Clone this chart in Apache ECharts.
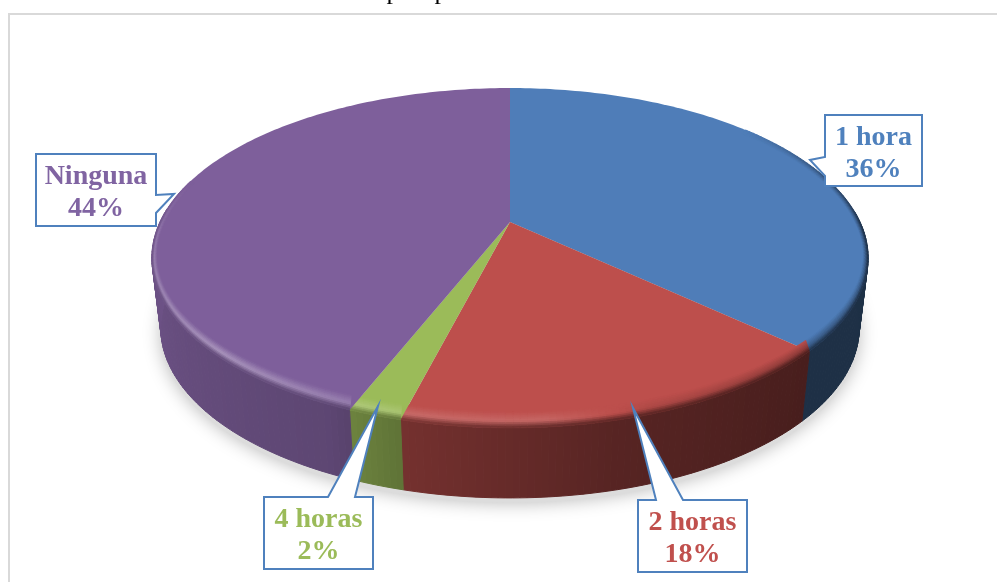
<!DOCTYPE html>
<html>
<head>
<meta charset="utf-8">
<style>html,body{margin:0;padding:0;background:#fff}#c{width:997px;height:582px}</style>
<script src="https://cdn.jsdelivr.net/npm/echarts@6/dist/echarts.min.js"></script>
</head>
<body>
<div id="c"></div>
<script>
var categories = ['1 hora', '2 horas', '4 horas', 'Ninguna'];
var values = [36, 18, 2, 44];
var colors = ['#4F7DB8', '#BD4F4C', '#9BBB59', '#7E5F9B'];
var labelColors = ['#4F81BD', '#C0504D', '#9BBB59', '#8064A2'];

// callout boxes: [x, y, w, h] and pointer [base point, tip, base point]
var boxes = [[825,115,97,71],[638,500,109,72],[264,497,109,72],[36,154,120,72]];
var pointers = [
  [[825,157],[810,160],[825,176]],
  [[683,500],[633,408],[656,500]],
  [[355,497],[378,406],[328,497]],
  [[156,195],[174,194],[156,213]]
];

// projection of the tilted disc
var P = {cx:510, apexY:222, rx:350, a:115.3, c:-0.2118, depth:70, bottomScale:0.975};
function rad(d){return d*Math.PI/180;}
function warp(t){
  // slight lens distortion of the perspective view on the right-front quadrant
  if (t<=60 || t>=190) return t;
  var s=Math.sin(rad((t-60)/130*180));
  return t+3.4*s*s;
}
function rimPt(theta){
  var t=warp(theta), u = Math.sin(rad(t)), v = -Math.cos(rad(t));
  var d = 1 + P.c*v;
  return [P.cx + P.rx*u/d, (P.a*v + P.apexY)/d];
}
function bevelPt(theta, k){
  // k: 0 on the rim, 1 on the inner edge of the bevel
  var p=rimPt(theta), t=warp(theta), u=Math.sin(rad(t)), v=-Math.cos(rad(t));
  return [p[0]-5*u*k, p[1]-(v>0?16:6)*v*k];
}
function botPt(theta){
  var p = rimPt(theta);
  return [P.cx + (p[0]-P.cx)*P.bottomScale, p[1] + P.depth];
}
function hex(c){return [parseInt(c.substr(1,2),16),parseInt(c.substr(3,2),16),parseInt(c.substr(5,2),16)];}
function css(a){return 'rgb('+a.map(function(x){return Math.round(Math.max(0,Math.min(255,x)));}).join(',')+')';}
function lookup(tbl, t){
  t = ((t%360)+360)%360;
  for (var i=0;i<tbl.length-1;i++){
    if (t>=tbl[i][0] && t<=tbl[i+1][0]){
      var k=(t-tbl[i][0])/(tbl[i+1][0]-tbl[i][0]);
      return tbl[i][1]+(tbl[i+1][1]-tbl[i][1])*k;
    }
  }
  return 0;
}
var wallTone = [[0,.4],[90,.38],[130,.38],[165,.46],[195,.62],[205,.74],[270,.88],[360,.88]];
var bevelTone = [[0,-.3],[90,-.3],[130,-.25],[160,-.08],[175,.14],[195,.16],[225,.34],[255,.22],[270,.12],[360,.05]];
var envelope = [[0,0],[50,0],[90,1],[268,1],[285,0],[360,0]];
function shade(base, s){
  return s>=0 ? base.map(function(x){return x+(255-x)*s;}) : base.map(function(x){return x*(1+s);});
}
function mix(a,b,k){return a.map(function(x,i){return x+(b[i]-x)*k;});}
function range(i){
  var total = values.reduce(function(a,b){return a+b;},0), s=0;
  for (var k=0;k<i;k++) s+=values[k];
  return [s/total*360, (s+values[i])/total*360];
}
function steps(a,b,step){
  var out=[], n=Math.max(1,Math.ceil((b-a)/step));
  for (var i=0;i<=n;i++) out.push(a+(b-a)*i/n);
  return out;
}
function poly(points, fill, lw){
  return {type:'polygon', silent:true, shape:{points:points}, style:{fill:fill, stroke:fill, lineWidth:lw===undefined?1:lw}};
}

function renderWalls(params){
  var i = params.dataIndex, r = range(i), base = hex(colors[i]), kids=[];
  if (i===0){
    var ring = steps(0,360,3).map(function(t){var p=botPt(t);return [p[0],p[1]+5];});
    kids.push({type:'polygon',silent:true,shape:{points:ring},
      style:{fill:'#dcdcdc',shadowBlur:18,shadowColor:'rgba(0,0,0,0.28)'}});
  }
  var a=Math.max(r[0],85), b=Math.min(r[1],275);
  if (b>a){
    var ts=steps(a,b,1);
    for (var j=0;j<ts.length-1;j++){
      var m=lookup(wallTone,(ts[j]+ts[j+1])/2);
      kids.push(poly([rimPt(ts[j]),rimPt(ts[j+1]),botPt(ts[j+1]),botPt(ts[j])],
        css(base.map(function(x){return x*m;}))));
    }
  }
  return {type:'group',children:kids};
}

function renderTops(params){
  var i = params.dataIndex, r = range(i), base = hex(colors[i]), kids=[];
  var ts = steps(r[0],r[1],1);
  var pts = [[P.cx,P.apexY]].concat(ts.map(function(t){return rimPt(t);}));
  kids.push(poly(pts,colors[i],0));
  var bands=9;
  for (var j=0;j<ts.length-1;j++){
    var mid=(ts[j]+ts[j+1])/2, e=lookup(envelope,mid);
    if (e===0) continue;
    var hl=shade(base,lookup(bevelTone,mid));
    var wall=base.map(function(x){return x*lookup(wallTone,mid);});
    for (var q=0;q<bands;q++){
      var k0=1-q/bands, k1=1-(q+1)/bands, km=1-(q+.5)/bands; // inner -> rim
      var c = km>.42 ? mix(base,hl,(1-km)/.58) : mix(hl,wall,(.42-km)/.42);
      kids.push(poly([bevelPt(ts[j],k0),bevelPt(ts[j+1],k0),bevelPt(ts[j+1],k1),bevelPt(ts[j],k1)],
        css(mix(base,c,e)),0.8));
    }
  }
  return {type:'group',children:kids};
}

function renderCallouts(params){
  var i = params.dataIndex, b = boxes[i], p = pointers[i];
  var x0=b[0], y0=b[1], x1=b[0]+b[2], y1=b[1]+b[3], path;
  if (i===0) path=[[x0,y0],[x1,y0],[x1,y1],[x0,y1],p[2],p[1],p[0]];
  else if (i===3) path=[[x0,y0],[x1,y0],p[0],p[1],p[2],[x1,y1],[x0,y1]];
  else path=[[x0,y0],p[2],p[1],p[0],[x1,y0],[x1,y1],[x0,y1]];
  return {type:'group',children:[
    {type:'polygon',silent:true,shape:{points:path},style:{fill:'#fff',stroke:'#4F81BD',lineWidth:2,lineJoin:'miter'}},
    {type:'text',silent:true,style:{
      x:(x0+x1)/2, y:(y0+y1)/2+3, text:categories[i]+'\n'+values[i]+'%',
      align:'center', verticalAlign:'middle',
      font:'bold 28px "Liberation Serif", serif', lineHeight:32, fill:labelColors[i]}}
  ]};
}

var chart = echarts.init(document.getElementById('c'), null, {renderer:'canvas'});
chart.setOption({
  animation:false,
  backgroundColor:'#fff',
  graphic:[
    {type:'polyline',silent:true,shape:{points:[[9,582],[9,14],[997,14]]},style:{fill:'none',stroke:'#D9D9D9',lineWidth:2}},
    {type:'text',silent:true,style:{x:393,y:5.5,text:'p',align:'center',verticalAlign:'bottom',font:'26px "Liberation Serif", serif',fill:'#000'}},
    {type:'text',silent:true,style:{x:441,y:5.5,text:'p',align:'center',verticalAlign:'bottom',font:'26px "Liberation Serif", serif',fill:'#000'}}
  ],
  series:[
    {type:'custom',coordinateSystem:'none',z:2,data:values,renderItem:renderWalls},
    {type:'custom',coordinateSystem:'none',z:3,data:values,renderItem:renderTops},
    {type:'custom',coordinateSystem:'none',z:4,data:values,renderItem:renderCallouts}
  ]
});
</script>
</body>
</html>
